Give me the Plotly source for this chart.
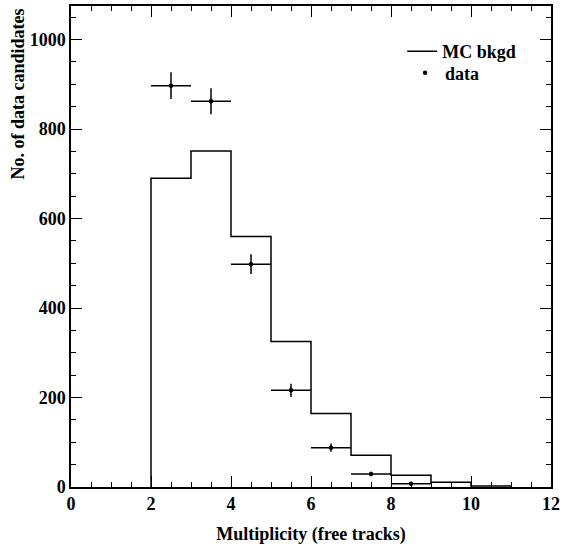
import plotly.graph_objects as go

# Monte Carlo background histogram: lower bin edges and counts (unit-width bins)
mc_bin_lo = [2, 3, 4, 5, 6, 7, 8, 9, 10]
mc_counts = [690, 751, 560, 325, 164, 71, 26, 10.5, 2]

# Data candidates per multiplicity bin (bin centres, counts, statistical errors)
data_x = [2.5, 3.5, 4.5, 5.5, 6.5, 7.5, 8.5]
data_y = [897, 862, 498, 216, 88, 29, 7]
data_err = [30, 29, 22, 15, 9, 5, 3]
bin_half_width = 0.5

x_ticks = [0, 2, 4, 6, 8, 10, 12]
y_ticks = [0, 200, 400, 600, 800, 1000]

FONT = "Liberation Serif"
BOLD = dict(family=FONT, color="black", weight="bold")

# Step outline for the histogram: rise at the first edge, flat across each bin
step_x = [mc_bin_lo[0]] + mc_bin_lo + [mc_bin_lo[-1] + 1]
step_y = [0] + mc_counts + [mc_counts[-1]]

fig = go.Figure()

fig.add_trace(go.Scatter(
    x=step_x, y=step_y, mode="lines", line_shape="hv",
    line=dict(color="black", width=1.5),
    name="<b>MC bkgd</b>", legend="legend",
))

fig.add_trace(go.Scatter(
    x=data_x, y=data_y, mode="markers",
    marker=dict(symbol="circle", size=4.5, color="black"),
    error_x=dict(type="constant", value=bin_half_width, width=0,
                 thickness=1.5, color="black"),
    error_y=dict(type="data", array=data_err, width=0,
                 thickness=1.5, color="black"),
    name="<b>data</b>", legend="legend2",
))

axis_common = dict(
    showgrid=False, zeroline=False, showline=True, linecolor="black",
    linewidth=1.5, mirror="ticks", ticks="inside", tickcolor="black",
    tickwidth=1.2, tickfont=dict(size=18, **BOLD), ticklen=11,
)

fig.update_xaxes(
    range=[0, 12], tickvals=x_ticks,
    ticktext=[f"<b>{v}</b>" for v in x_ticks],
    minor=dict(dtick=0.5, ticks="inside", ticklen=5.5, tickcolor="black",
               tickwidth=1.2),
    title=dict(text="<b>Multiplicity (free tracks)</b>", standoff=14,
               font=dict(size=18, **BOLD)),
    **axis_common,
)
fig.update_yaxes(
    range=[0, 1075], tickvals=y_ticks,
    ticktext=[f"<b>{v}</b>" for v in y_ticks],
    minor=dict(dtick=50, ticks="inside", ticklen=5.5, tickcolor="black",
               tickwidth=1.2),
    **axis_common,
)

# Y-axis title, set against the top of the frame
fig.add_annotation(
    text="<b>No. of data candidates</b>", textangle=-90,
    xref="paper", yref="paper", x=0, y=1, xanchor="center", yanchor="top",
    xshift=-54, yshift=-1, showarrow=False, font=dict(size=18, **BOLD),
)

legend_style = dict(xanchor="left", yanchor="top", bgcolor="rgba(0,0,0,0)",
                    borderwidth=0, font=dict(size=18, **BOLD), itemwidth=30)

fig.update_layout(
    width=564, height=549,
    margin=dict(l=71, r=10, t=4, b=62),
    paper_bgcolor="white", plot_bgcolor="white",
    font=BOLD,
    showlegend=True,
    legend=dict(x=0.69, y=0.944, **legend_style),
    legend2=dict(x=0.696, y=0.899, **legend_style),
)

fig.write_html("out.html")
